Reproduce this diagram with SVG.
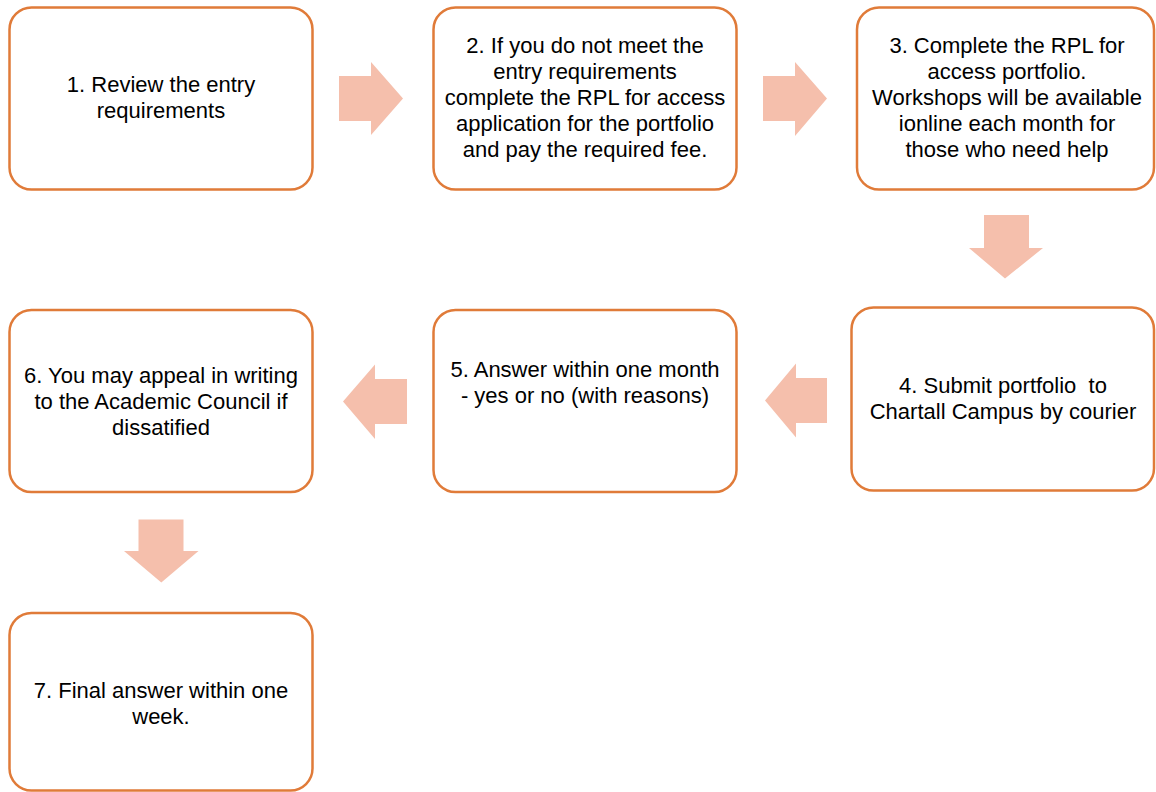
<svg xmlns="http://www.w3.org/2000/svg" width="1156" height="792" viewBox="0 0 1156 792">
<style>
.box{fill:#FFFFFF;stroke:#E07B39;stroke-width:2.5}
.arr{fill:#F5BFAC}
.t{font-family:"Liberation Sans",Arial,sans-serif;font-size:22px;fill:#000000;text-anchor:middle}
</style>
<rect width="1156" height="792" fill="#FFFFFF"/>
<g id="connectors">
<polygon class="arr" points="339,76 371,76 371,62 403,98.5 371,135 371,121 339,121"/>
<polygon class="arr" points="763,76 795,76 795,62 827,98.5 795,136 795,121 763,121"/>
<polygon class="arr" points="984,215 1029,215 1029,248 1043,248 1005,278.5 969,248 984,248"/>
<polygon class="arr" points="827,378 796,378 796,363.5 765,400.5 796,437.5 796,423 827,423"/>
<polygon class="arr" points="407,379 375,379 375,364.5 343,401.5 375,439 375,424 407,424"/>
<polygon class="arr" points="138.5,519.5 183.5,519.5 183.5,551 198.5,551 161.3,582.5 124,551 138.5,551"/>
</g>
<g id="node1">
<rect class="box" x="9.5" y="7.5" width="303" height="182" rx="22"/>
<text class="t" x="161" y="91.5">1. Review the entry</text>
<text class="t" x="161" y="117.5">requirements</text>
</g>
<g id="node2">
<rect class="box" x="433.5" y="7.5" width="303" height="182" rx="22"/>
<text class="t" x="585" y="52.5">2. If you do not meet the</text>
<text class="t" x="585" y="78.5">entry requirements</text>
<text class="t" x="585" y="104.5">complete the RPL for access</text>
<text class="t" x="585" y="130.5">application for the portfolio</text>
<text class="t" x="585" y="156.5">and pay the required fee.</text>
</g>
<g id="node3">
<rect class="box" x="857" y="7.5" width="297" height="182" rx="22"/>
<text class="t" x="1007" y="53">3. Complete the RPL for</text>
<text class="t" x="1007" y="79">access portfolio.</text>
<text class="t" x="1007" y="105">Workshops will be available</text>
<text class="t" x="1007" y="131">ionline each month for</text>
<text class="t" x="1007" y="157">those who need help</text>
</g>
<g id="node4">
<rect class="box" x="851.5" y="307.5" width="302.5" height="183" rx="22"/>
<text class="t" x="1003" y="393" xml:space="preserve">4. Submit portfolio  to</text>
<text class="t" x="1003" y="419">Chartall Campus by courier</text>
</g>
<g id="node5">
<rect class="box" x="433.5" y="310" width="303" height="182" rx="22"/>
<text class="t" x="585" y="377">5. Answer within one month</text>
<text class="t" x="585" y="403">- yes or no (with reasons)</text>
</g>
<g id="node6">
<rect class="box" x="9.5" y="310" width="303" height="182" rx="22"/>
<text class="t" x="161" y="382.5">6. You may appeal in writing</text>
<text class="t" x="161" y="408.5">to the Academic Council if</text>
<text class="t" x="161" y="434.5">dissatified</text>
</g>
<g id="node7">
<rect class="box" x="9.5" y="613" width="303" height="177.5" rx="22"/>
<text class="t" x="161" y="697.5">7. Final answer within one</text>
<text class="t" x="161" y="723.5">week.</text>
</g>
</svg>
